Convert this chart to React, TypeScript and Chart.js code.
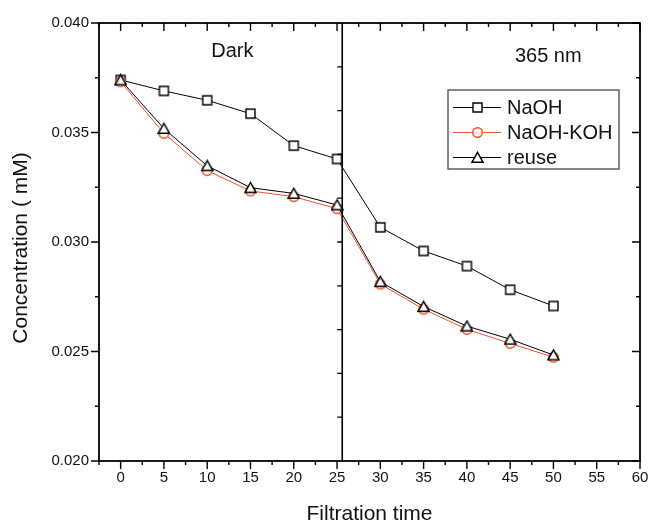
import React, { useEffect, useRef } from 'react';
import { Chart, registerables } from 'chart.js';

Chart.register(...registerables);

// ---- data ----
const times = [0, 5, 10, 15, 20, 25, 30, 35, 40, 45, 50];
const naoh = [0.0374, 0.0369, 0.03647, 0.03586, 0.0344, 0.03379, 0.03067, 0.02959, 0.0289, 0.02782, 0.02708];
const naohKoh = [0.03732, 0.03496, 0.03326, 0.03233, 0.03207, 0.03152, 0.02808, 0.02693, 0.02601, 0.02537, 0.02474];
const reuse = [0.0374, 0.03518, 0.03348, 0.03248, 0.03222, 0.03169, 0.02819, 0.02705, 0.02616, 0.02556, 0.02484];

const seriesNames = ['NaOH', 'NaOH-KOH', 'reuse'];
const xTicks = [0, 5, 10, 15, 20, 25, 30, 35, 40, 45, 50, 55, 60];
const xMinorTicks = [-2.5, 2.5, 7.5, 12.5, 17.5, 22.5, 27.5, 32.5, 37.5, 42.5, 47.5, 52.5, 57.5];
const yTicks = [0.02, 0.025, 0.03, 0.035, 0.04];
const yMinorTicks = [0.0225, 0.0275, 0.0325, 0.0375];
const dividerTicks = [0.022, 0.024, 0.026, 0.028, 0.03, 0.032, 0.034, 0.036, 0.038];
const dividerX = 25.6;
const panelLabels = ['Dark', '365 nm'];
const panelLabelX = [12.9, 49.4];
const panelLabelY = [0.03868, 0.03848];
const xTitle = 'Filtration time';
const yTitle = 'Concentration ( mM)';

const FONT = "'Liberation Sans', Arial, sans-serif";
const RED = '#f0522b';

function makeMarker(kind: string, color: string) {
  const c = document.createElement('canvas');
  c.width = 13;
  c.height = 13;
  const g = c.getContext('2d')!;
  g.fillStyle = '#fff';
  g.strokeStyle = color;
  g.lineWidth = 1.4;
  g.beginPath();
  if (kind === 'square') g.rect(2, 2, 9, 9);
  else if (kind === 'circle') g.arc(6.5, 6.5, 4.8, 0, Math.PI * 2);
  else {
    g.moveTo(6.5, 1.3);
    g.lineTo(0.9, 11.3);
    g.lineTo(12.1, 11.3);
    g.closePath();
  }
  g.fill();
  g.stroke();
  return c;
}

export default function App() {
  const ref = useRef<HTMLCanvasElement | null>(null);

  useEffect(() => {
    const canvas = ref.current!;
    const markers = [makeMarker('square', '#000'), makeMarker('circle', RED), makeMarker('triangle', '#000')];
    const colors = ['#000', RED, '#000'];
    const values = [naoh, naohKoh, reuse];
    const orders = [2, 1, 0];

    const framePlugin = {
      id: 'frame',
      afterDraw(chart: any) {
        const { ctx, chartArea: a, scales } = chart;
        const xs = scales.x;
        const ys = scales.y;
        ctx.save();
        // frame
        ctx.strokeStyle = '#000';
        ctx.lineWidth = 1.8;
        ctx.strokeRect(a.left, a.top, a.right - a.left, a.bottom - a.top);
        // ticks
        ctx.lineWidth = 1.4;
        ctx.beginPath();
        const tickX = (v: number, len: number) => {
          const x = xs.getPixelForValue(v);
          ctx.moveTo(x, a.bottom);
          ctx.lineTo(x, a.bottom + len);
          ctx.moveTo(x, a.top);
          ctx.lineTo(x, a.top + len);
        };
        const tickY = (v: number, len: number) => {
          const y = ys.getPixelForValue(v);
          ctx.moveTo(a.left, y);
          ctx.lineTo(a.left - len, y);
          ctx.moveTo(a.right, y);
          ctx.lineTo(a.right - len, y);
        };
        xTicks.forEach((v) => tickX(v, 8));
        xMinorTicks.forEach((v) => tickX(v, 4));
        yTicks.forEach((v) => tickY(v, 8));
        yMinorTicks.forEach((v) => tickY(v, 4));
        ctx.stroke();
        // divider
        const dx = xs.getPixelForValue(dividerX);
        ctx.lineWidth = 1.6;
        ctx.beginPath();
        ctx.moveTo(dx, a.top);
        ctx.lineTo(dx, a.bottom);
        ctx.stroke();
        ctx.lineWidth = 1.3;
        ctx.beginPath();
        dividerTicks.forEach((v) => {
          const y = ys.getPixelForValue(v);
          ctx.moveTo(dx, y);
          ctx.lineTo(dx - 5, y);
        });
        ctx.stroke();
        // panel labels
        ctx.fillStyle = '#111';
        ctx.font = `20px ${FONT}`;
        ctx.textAlign = 'center';
        ctx.textBaseline = 'middle';
        panelLabels.forEach((t, i) => {
          ctx.fillText(t, xs.getPixelForValue(panelLabelX[i]), ys.getPixelForValue(panelLabelY[i]));
        });
        // legend
        const lx = a.right - 192;
        const ly = a.top + 67;
        ctx.fillStyle = '#fff';
        ctx.fillRect(lx, ly, 171, 79);
        ctx.strokeStyle = '#555';
        ctx.lineWidth = 1.4;
        ctx.strokeRect(lx, ly, 171, 79);
        ctx.font = `20px ${FONT}`;
        ctx.textAlign = 'left';
        seriesNames.forEach((name, i) => {
          const yy = Math.round(ly + 17 + i * 25);
          ctx.strokeStyle = colors[i];
          ctx.lineWidth = 1.1;
          ctx.beginPath();
          ctx.moveTo(lx + 5, yy + 0.5);
          ctx.lineTo(lx + 53, yy + 0.5);
          ctx.stroke();
          const m = markers[i];
          ctx.drawImage(m, Math.round(lx + 29 - m.width / 2), Math.round(yy - m.height / 2));
          ctx.fillStyle = '#111';
          ctx.fillText(name, lx + 59, yy + 1);
        });
        // y title
        ctx.save();
        ctx.translate(21.5, (a.top + a.bottom) / 2 + 6);
        ctx.rotate(-Math.PI / 2);
        ctx.textAlign = 'center';
        ctx.textBaseline = 'middle';
        ctx.fillStyle = '#111';
        ctx.font = `21px ${FONT}`;
        ctx.fillText(yTitle, 0, 0);
        ctx.restore();
        ctx.restore();
      },
    };

    const chart = new Chart(canvas, {
      type: 'line',
      data: {
        datasets: seriesNames.map((name, i) => ({
          label: name,
          data: times.map((t, j) => ({ x: t, y: values[i][j] })),
          borderColor: colors[i],
          backgroundColor: '#fff',
          borderWidth: 1,
          pointStyle: markers[i] as any,
          pointRadius: 5,
          tension: 0,
          order: orders[i],
          fill: false,
        })),
      },
      options: {
        animation: false,
        responsive: false,
        devicePixelRatio: 1,
        events: [],
        layout: { padding: { left: 0, top: 23, right: 11, bottom: 0 } },
        plugins: { legend: { display: false }, tooltip: { enabled: false } },
        scales: {
          x: {
            type: 'linear',
            min: -2.5,
            max: 60,
            grid: { display: false, drawTicks: false },
            border: { display: false },
            afterBuildTicks: (s: any) => {
              s.ticks = xTicks.map((v) => ({ value: v }));
            },
            afterFit: (s: any) => {
              s.height = 62;
              s.paddingLeft = 0;
              s.paddingRight = 0;
            },
            ticks: {
              autoSkip: false,
              maxRotation: 0,
              padding: 8,
              color: '#111',
              font: { family: FONT, size: 15 },
            },
            title: {
              display: true,
              text: xTitle,
              color: '#111',
              font: { family: FONT, size: 21, lineHeight: 1 },
              padding: { top: 0, bottom: -2 },
            },
          },
          y: {
            type: 'linear',
            min: 0.02,
            max: 0.04,
            grid: { display: false, drawTicks: false },
            border: { display: false },
            afterBuildTicks: (s: any) => {
              s.ticks = yTicks.map((v) => ({ value: v }));
            },
            afterFit: (s: any) => {
              s.width = 99;
              s.paddingTop = 0;
              s.paddingBottom = 0;
            },
            ticks: {
              autoSkip: false,
              padding: 10,
              color: '#111',
              font: { family: FONT, size: 15 },
              callback: (v: any) => Number(v).toFixed(3),
            },
          },
        },
      },
      plugins: [framePlugin],
    });
    return () => chart.destroy();
  }, []);

  return (
    <div style={{ position: 'absolute', left: 0, top: 0, width: 651, height: 523, background: '#fff' }}>
      <canvas ref={ref} width={651} height={523} />
    </div>
  );
}
